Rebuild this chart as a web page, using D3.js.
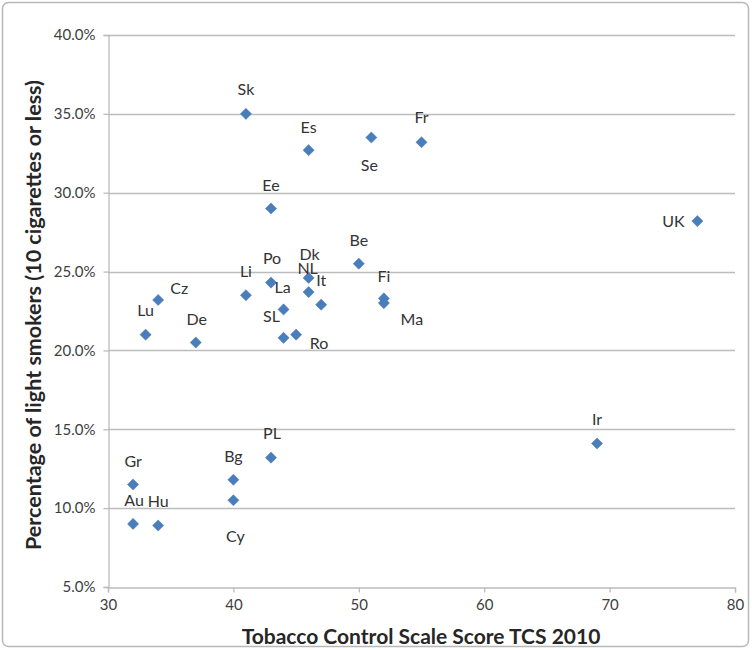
<!DOCTYPE html>
<html><head><meta charset="utf-8">
<script src="https://cdn.jsdelivr.net/npm/d3@7"></script>
<style>body{margin:0;background:#fff}</style>
</head><body>
<svg id="chart" width="752" height="650"></svg>
<script>
const countries = ["Sk","Es","Se","Fr","Ee","UK","Be","Dk","NL","It","Li","Po","La","SL","Ro","Fi","Ma","Cz","Lu","De","Gr","Au","Hu","Bg","Cy","PL","Ir"];
const tcsScores = [41,46,51,55,43,77,50,46,46,47,41,43,44,44,45,52,52,34,33,37,32,32,34,40,40,43,69];
const lightSmokers = [0.350,0.327,0.335,0.332,0.290,0.282,0.255,0.246,0.237,0.229,0.235,0.243,0.226,0.208,0.210,0.233,0.230,0.232,0.210,0.205,0.115,0.090,0.089,0.118,0.105,0.132,0.141];
// label placement relative to marker (dx, dy)
const labelOffsets = [[0,-24],[0,-23],[-2,28],[0,-25],[0,-23],[-24,0],[0,-23],[1,-23],[-1,-24],[0,-24],[0,-24],[1,-24],[-1,-22],[-12,-21],[23,9],[0,-22],[28,16],[21,-12],[0,-24],[1,-23],[0,-23],[1,-24],[0,-24],[0,-23],[2,36],[1,-24],[0,-24]];
const xTicks = [30,40,50,60,70,80];
const yTicks = [0.05,0.10,0.15,0.20,0.25,0.30,0.35,0.40];
const xTitle = "Tobacco Control Scale Score TCS 2010";
const yTitle = "Percentage of light smokers (10 cigarettes or less)";

const svg = d3.select("#chart");
const font = "Lato, 'Open Sans', sans-serif";

// outer chart border
svg.append("rect").attr("x",2.5).attr("y",2.5).attr("width",746).attr("height",644)
  .attr("rx",6).attr("fill","#fff").attr("stroke","#b8b8b8").attr("stroke-width",1.5);

const x = d3.scaleLinear().domain([30,80]).range([108,735]);
const y = d3.scaleLinear().domain([0.05,0.40]).range([587,35]);

// gridlines
svg.append("g").selectAll("line").data(yTicks.slice(1)).join("line")
  .attr("x1",x(30)).attr("x2",x(80))
  .attr("y1",d=>Math.round(y(d))+0.5).attr("y2",d=>Math.round(y(d))+0.5)
  .attr("stroke","#bcbcbc").attr("stroke-width",1.3);

// axes
const xAxis = svg.append("g").attr("transform",`translate(0,${Math.round(y(0.05))+0.5})`)
  .call(d3.axisBottom(x).tickValues(xTicks).tickSize(5).tickPadding(7));
const yAxis = svg.append("g").attr("transform",`translate(${Math.round(x(30))+0.5},0)`)
  .call(d3.axisLeft(y).tickValues(yTicks).tickSize(5).tickPadding(8).tickFormat(d3.format(".1%")));
[xAxis,yAxis].forEach(g=>{
  g.select(".domain").attr("stroke","#bcbcbc").attr("stroke-width",1.3);
  g.selectAll(".tick line").attr("stroke","#bcbcbc").attr("stroke-width",1.3);
  g.selectAll(".tick text").attr("fill","#404040").attr("font-family",font).attr("font-size",15);
});

// markers
const diamond = d3.symbol().type(d3.symbolSquare).size(62);
svg.append("g").selectAll("path").data(countries).join("path")
  .attr("d",diamond)
  .attr("transform",(d,i)=>`translate(${x(tcsScores[i])},${y(lightSmokers[i])}) rotate(45)`)
  .attr("fill","#4a7ebb").attr("stroke","#4679b8").attr("stroke-width",0.5);

// labels
svg.append("g").selectAll("text").data(countries).join("text")
  .attr("x",(d,i)=>x(tcsScores[i])+labelOffsets[i][0])
  .attr("y",(d,i)=>y(lightSmokers[i])+labelOffsets[i][1])
  .attr("dy","0.35em").attr("text-anchor","middle")
  .attr("font-family",font).attr("font-size",16).attr("fill","#333")
  .text(d=>d);

// titles
svg.append("text").attr("x",421).attr("y",644).attr("text-anchor","middle")
  .attr("font-family",font).attr("font-weight","bold").attr("font-size",21).attr("fill","#262626")
  .text(xTitle);
svg.append("text").attr("transform","translate(41,315) rotate(-90)").attr("text-anchor","middle")
  .attr("font-family",font).attr("font-weight","bold").attr("font-size",21.5).attr("fill","#262626")
  .text(yTitle);
</script>
</body></html>
